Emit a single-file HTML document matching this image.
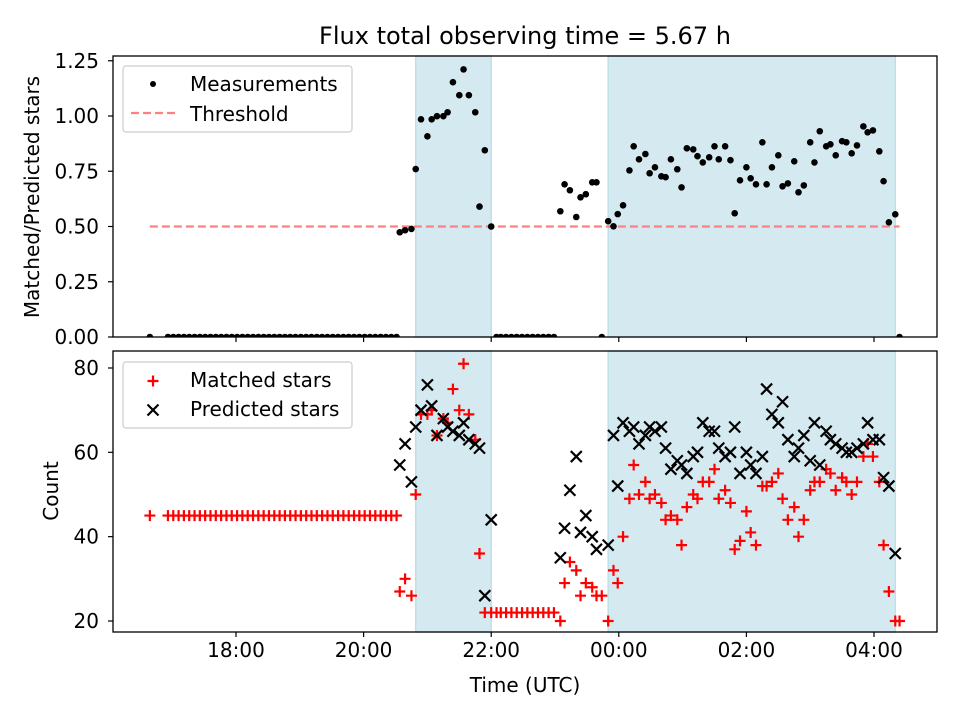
<!DOCTYPE html>
<html><head><meta charset="utf-8"><style>
html,body{margin:0;padding:0;background:#fff;}
svg{display:block;font-family:"DejaVu Sans","Liberation Sans",sans-serif;}
</style></head>
<body>
<svg id="chart" width="960" height="720" viewBox="0 0 960 720" xmlns="http://www.w3.org/2000/svg">
<rect width="960" height="720" fill="#fff"/>
<text x="525" y="44" font-size="24" text-anchor="middle" fill="#000">Flux total observing time = 5.67 h</text>
<g id="top"></g>
<g id="bottom"></g>
<text x="525" y="692" font-size="20" text-anchor="middle">Time (UTC)</text>
<text transform="translate(39,197) rotate(-90)" font-size="20" text-anchor="middle">Matched/Predicted stars</text>
<text transform="translate(58,491) rotate(-90)" font-size="20" text-anchor="middle">Count</text>
</svg>
<script>
const times = [999,1016,1021,1026,1031,1036,1041,1046,1051,1056,1061,1066,1071,1076,1081,1086,1091,1096,1101,1106,1111,1116,1121,1126,1131,1136,1141,1146,1151,1156,1161,1166,1171,1176,1181,1186,1191,1196,1201,1206,1211,1216,1221,1226,1231,
1234,1239,1245,1249,1254,1260,1264,1269,1275,1279,1284,1290,1294,1299,1305,1309,1314,1320,
1325,1329,1334,1339,1344,1349,1354,1359,1364,1369,1374,1379,
1385,1389,1394,1400,1404,1409,1415,1419,1424,1430,1435,1439,1444,
1450,1454,1459,1465,1469,1474,1480,1484,1489,1495,1499,1504,1510,1514,1519,1525,1530,1534,1540,1545,1549,1554,1560,1564,1569,1575,1579,1584,1590,1594,1599,1605,1609,1614,1620,1624,1629,1635,1639,1644,1650,1654,1659,1664,1670,1674,1679,1685,1689,1694,1700,1704];
const ratio = [0,0,0,0,0,0,0,0,0,0,0,0,0,0,0,0,0,0,0,0,0,0,0,0,0,0,0,0,0,0,0,0,0,0,0,0,0,0,0,0,0,0,0,0,0,
0.474,0.483,0.489,0.76,0.985,0.908,0.985,0.999,0.999,1.017,1.153,1.094,1.211,1.094,1.017,0.59,0.845,0.5,
0,0,0,0,0,0,0,0,0,0,0,0,
0.569,0.691,0.664,0.543,0.632,0.646,0.70,0.70,0,0.524,0.501,0.556,0.596,
0.754,0.863,0.804,0.828,0.741,0.768,0.727,0.723,0.804,0.759,0.677,0.854,0.849,0.818,0.790,0.813,0.863,0.804,0.863,0.800,0.560,0.709,0.768,0.718,0.691,0.881,0.691,0.768,0.822,0.682,0.695,0.795,0.655,0.686,0.881,0.790,0.931,0.863,0.872,0.822,0.886,0.881,0.831,0.867,0.953,0.926,0.935,0.840,0.705,0.519,0.555,0];
const matched = [45,45,45,45,45,45,45,45,45,45,45,45,45,45,45,45,45,45,45,45,45,45,45,45,45,45,45,45,45,45,45,45,45,45,45,45,45,45,45,45,45,45,45,45,45,
27,30,26,50,69,69,70,64,68,67,75,70,81,69,63,36,22,22,
22,22,22,22,22,22,22,22,22,22,22,22,
20,29,34,32,26,29,28,26,26,20,32,29,40,
49,57,50,53,49,50,48,44,45,44,38,47,50,49,53,53,56,49,51,48,37,39,46,41,38,52,52,53,55,49,44,47,40,44,51,53,53,56,55,51,54,53,50,53,59,62,59,53,38,27,20,20];
const predicted = [null,null,null,null,null,null,null,null,null,null,null,null,null,null,null,null,null,null,null,null,null,null,null,null,null,null,null,null,null,null,null,null,null,null,null,null,null,null,null,null,null,null,null,null,null,
57,62,53,66,70,76,71,64,68,66,65,64,67,63,62,61,26,44,
null,null,null,null,null,null,null,null,null,null,null,null,
35,42,51,59,41,45,40,37,null,38,64,52,67,
65,66,62,64,66,65,66,61,56,58,57,55,59,60,67,65,65,61,59,60,66,55,60,57,55,59,75,69,67,72,63,59,61,64,58,67,57,65,63,62,61,60,60,61,62,67,63,63,54,52,36,null];
const spans = [[1249,1320],[1430,1700]];
const threshold = 0.5;
const xTicks = [1080,1200,1320,1440,1560,1680];
const xTickLabels = ["18:00","20:00","22:00","00:00","02:00","04:00"];
const topTicks = [0,0.25,0.5,0.75,1.0,1.25];
const topTickLabels = ["0.00","0.25","0.50","0.75","1.00","1.25"];
const botTicks = [20,40,60,80];

const NS="http://www.w3.org/2000/svg";
const L=113,R=937;
const FS=20;
const xs=m=>236+(m-1080)*63.8/60;
const yTop=v=>337-v*221;
const yBot=v=>621-(v-20)*4.2167;
function mk(p,t,a){const e=document.createElementNS(NS,t);for(const k in a)e.setAttribute(k,a[k]);p.appendChild(e);return e;}
const svg=document.getElementById('chart');
const top_=document.getElementById('top'), bot=document.getElementById('bottom');

function panel(g,y0,y1,name){
  spans.forEach((s,i)=>{
    const r=mk(g,'rect',{x:xs(s[0]),y:y0,width:xs(s[1])-xs(s[0]),height:y1-y0,fill:'#d5eaf0',stroke:'#bfe0ea','stroke-width':1.5});
    
    
  });
}
panel(top_,56,337,'top');
panel(bot,351,632,'bottom');

const th=mk(top_,'line',{x1:xs(times[0]),x2:xs(times[times.length-1]),y1:yTop(threshold),y2:yTop(threshold),stroke:'#ff8080','stroke-width':2.2,'stroke-dasharray':'8,4'});



const clipT=mk(svg,'clipPath',{id:'ct'});mk(clipT,'rect',{x:L,y:56,width:R-L,height:281});
const mg=mk(top_,'g',{'clip-path':'url(#ct)'});
times.forEach((t,i)=>{
  const c=mk(mg,'circle',{cx:xs(t),cy:yTop(ratio[i]),r:3.3,fill:'#000'});
  
  
});

times.forEach((t,i)=>{
  const x=xs(t),y=yBot(matched[i]);
  const p=mk(bot,'path',{d:`M${x-5.5},${y}H${x+5.5}M${x},${y-5.5}V${y+5.5}`,stroke:'#ff0000','stroke-width':2.2});
  
  
});
times.forEach((t,i)=>{
  if(predicted[i]==null)return;
  const x=xs(t),y=yBot(predicted[i]),d=5.5;
  const p=mk(bot,'path',{d:`M${x-d},${y-d}L${x+d},${y+d}M${x-d},${y+d}L${x+d},${y-d}`,stroke:'#000','stroke-width':2.2});
  
  
});

[[56,337],[351,632]].forEach(([a,b],k)=>{
  const f=mk(svg,'rect',{x:L,y:a,width:R-L,height:b-a,fill:'none',stroke:'#000','stroke-width':1.3});
  
  
  xTicks.forEach((t,i)=>{
    mk(svg,'line',{x1:xs(t),x2:xs(t),y1:b,y2:b+5,stroke:'#000','stroke-width':1.2});
    if(k){
      const tx=mk(svg,'text',{x:xs(t),y:b+25,'font-size':FS,'text-anchor':'middle'});
      tx.textContent=xTickLabels[i];
      
      
    }
  });
});
topTicks.forEach((v,i)=>{
  const y=yTop(v);
  mk(svg,'line',{x1:L-5,x2:L,y1:y,y2:y,stroke:'#000','stroke-width':1.2});
  const tx=mk(svg,'text',{x:L-14,y:y+7,'font-size':FS,'text-anchor':'end'});
  tx.textContent=topTickLabels[i];
  
  
});
botTicks.forEach(v=>{
  const y=yBot(v);
  mk(svg,'line',{x1:L-5,x2:L,y1:y,y2:y,stroke:'#000','stroke-width':1.2});
  const tx=mk(svg,'text',{x:L-14,y:y+7,'font-size':FS,'text-anchor':'end'});
  tx.textContent=String(v);
  
  
});

function legend(y0,name){
  const g=mk(svg,'g',{});
  
  
  mk(g,'rect',{x:123,y:y0,width:229,height:66,rx:3,fill:'#fff','fill-opacity':0.8,stroke:'#ccc','stroke-width':1.2});
  return g;
}
const lg1=legend(66,'top-legend');
mk(lg1,'circle',{cx:153,cy:84,r:3,fill:'#000'});
mk(lg1,'line',{x1:131,x2:175,y1:113,y2:113,stroke:'#ff8080','stroke-width':2.2,'stroke-dasharray':'8,4'});
let t1=mk(lg1,'text',{x:190,y:91,'font-size':FS});t1.textContent='Measurements';


let t2=mk(lg1,'text',{x:190,y:121,'font-size':FS});t2.textContent='Threshold';


const lg2=legend(362,'bottom-legend');
mk(lg2,'path',{d:'M147.5,381H158.5M153,375.5V386.5',stroke:'#ff0000','stroke-width':2.2});
mk(lg2,'path',{d:'M147.5,404.5L158.5,415.5M147.5,415.5L158.5,404.5',stroke:'#000','stroke-width':2.2});
let t3=mk(lg2,'text',{x:190,y:387,'font-size':FS});t3.textContent='Matched stars';


let t4=mk(lg2,'text',{x:190,y:416,'font-size':FS});t4.textContent='Predicted stars';


</script>
</body></html>
